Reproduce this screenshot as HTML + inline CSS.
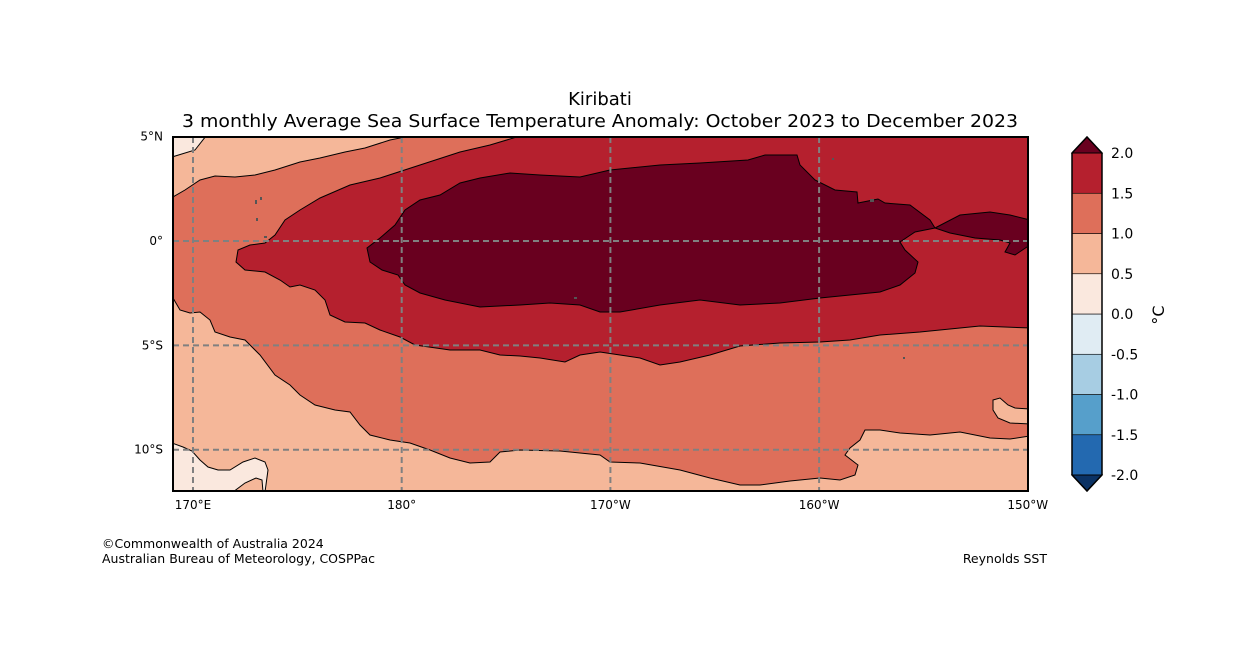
<!DOCTYPE html>
<html><head><meta charset="utf-8"><style>
html,body{margin:0;padding:0;background:#fff;}
svg{display:block;font-family:"DejaVu Sans","Liberation Sans",sans-serif;}
</style></head><body>
<svg id="fig" width="1258" height="667" viewBox="0 0 1258 667">
<text x="600" y="105" text-anchor="middle" font-size="18">Kiribati</text>
<text x="600" y="127" text-anchor="middle" font-size="18" textLength="836" lengthAdjust="spacingAndGlyphs">3 monthly Average Sea Surface Temperature Anomaly: October 2023 to December 2023</text>
<defs><clipPath id="mapclip"><rect x="173" y="137" width="855" height="354"/></clipPath></defs>
<g clip-path="url(#mapclip)" stroke="#000" stroke-width="1">
<rect x="173" y="137" width="855" height="354" fill="#f5b799" stroke="none"/>
<path fill="#de6f5a" d="M173,197 L185,190 200,180 215,176 235,177 255,175 275,170 300,162 320,158 345,152 365,148 390,140 410,136 1030,136 1030,436 1010,439 990,438 960,432 930,435 900,433 880,430 865,430 860,440 850,448 845,455 858,465 855,475 840,480 820,478 790,481 760,485 740,485 710,478 680,470 640,463 610,462 600,455 560,451 520,450 500,452 490,462 470,463 450,458 430,450 410,443 390,440 370,435 360,425 350,412 335,410 315,405 300,395 290,385 275,375 260,355 245,340 230,337 215,332 210,320 200,312 190,313 180,310 173,298 Z"/>
<path fill="#f5b799" d="M993,400 L1000,398 1008,405 1015,408 1030,409 1030,424 1010,423 998,418 993,410 Z"/>
<path fill="#b5202e" d="M520,136 L490,145 460,152 420,165 380,178 350,185 320,198 300,210 285,220 275,235 265,243 250,245 238,250 236,262 245,270 265,272 280,280 290,287 300,285 315,290 325,300 330,315 345,322 365,323 380,330 400,337 415,345 450,350 480,350 500,355 520,356 540,358 565,362 580,355 600,352 620,355 640,358 660,365 680,362 710,355 740,346 780,343 820,342 850,340 880,335 920,332 960,328 980,326 1030,328 1030,136 Z"/>
<path fill="#69001f" d="M380,238 L367,248 370,262 382,270 398,275 405,285 420,293 445,300 480,307 520,305 550,303 580,305 600,312 620,312 660,305 700,300 740,305 780,303 820,298 850,295 880,292 900,285 915,273 918,262 905,250 900,242 915,232 935,228 930,220 910,205 885,203 878,199 858,203 857,192 835,190 815,180 800,165 797,155 765,155 748,160 700,163 660,165 610,170 580,177 540,175 510,173 480,178 460,183 440,195 420,200 405,210 395,225 Z"/>
<path fill="#69001f" d="M935,228 L960,215 990,212 1010,215 1030,220 1030,245 1015,255 1005,252 1010,243 1000,240 975,238 950,233 Z"/>
<path fill="#fae8de" d="M172,137 L206,136 195,150 172,157 Z"/>
<path fill="#fae8de" d="M172,443 L183,447 192,451 200,460 208,467 218,470 230,470 243,462 255,458 265,462 268,470 265,492 263,492 262,480 256,478 245,483 233,492 172,492 Z"/>
<g fill="#555" stroke="none">
<rect x="255" y="200" width="2" height="4"/><rect x="260" y="197" width="2" height="3"/><rect x="256" y="218" width="2" height="3"/><rect x="264" y="236" width="3" height="2"/><rect x="574" y="297" width="3" height="2"/><rect x="870" y="199" width="4" height="3"/><rect x="832" y="158" width="2" height="2"/><rect x="903" y="357" width="2" height="2"/>
</g>
</g>
<g id="grid" stroke="#808080" stroke-width="2" stroke-dasharray="6,4"></g>
<rect x="173" y="137" width="855" height="354" fill="none" stroke="#000" stroke-width="2"/>
<g id="ticks" font-size="12"></g>
<g id="cbar"></g>
<text transform="translate(1164,315) rotate(-90)" text-anchor="middle" font-size="16">°C</text>
<text x="102" y="548" font-size="12.5">©Commonwealth of Australia 2024</text>
<text x="102" y="563" font-size="12.5">Australian Bureau of Meteorology, COSPPac</text>
<text x="1047" y="563" font-size="12.5" text-anchor="end">Reynolds SST</text>
</svg>
<script>
const lonTicks = [170, 180, 190, 200, 210];
const lonLabels = ["170°E", "180°", "170°W", "160°W", "150°W"];
const latTicks = [5, 0, -5, -10];
const latLabels = ["5°N", "0°", "5°S", "10°S"];
const cbarLevels = [-2.0, -1.5, -1.0, -0.5, 0.0, 0.5, 1.0, 1.5, 2.0];
const cbarColors = ["#2369b0", "#569fcb", "#a7cde3", "#e0ecf3", "#fae8de", "#f5b799", "#de6f5a", "#b5202e"];
const cbarUnder = "#0b3264";
const cbarOver = "#69001f";
const NS = "http://www.w3.org/2000/svg";
function xLon(l){ return 193 + (l - 170) * 20.87; }
function yLat(l){ return 241 - l * 20.87; }
function yC(v){ return 475 - (v + 2) * 80.5; }
function mk(tag, attrs, parent){ const e = document.createElementNS(NS, tag); for (const k in attrs) e.setAttribute(k, attrs[k]); parent.appendChild(e); return e; }
const gridG = document.getElementById('grid'), ticksG = document.getElementById('ticks'), cbarG = document.getElementById('cbar');
lonTicks.forEach((l, i) => {
  if (l < 210) {
    const ln = mk('line', {x1: xLon(l), x2: xLon(l), y1: 137, y2: 491}, gridG);
    
    
  }
  const t = mk('text', {x: xLon(l), y: 509, 'text-anchor': 'middle'}, ticksG);
  t.textContent = lonLabels[i];
  
  
});
latTicks.forEach((l, i) => {
  if (l < 5) {
    const ln = mk('line', {x1: 173, x2: 1028, y1: yLat(l), y2: yLat(l)}, gridG);
    
    
  }
  const t = mk('text', {x: 163, y: yLat(l) + 4, 'text-anchor': 'end'}, ticksG);
  t.textContent = latLabels[i];
  
  
});
for (let i = 0; i < cbarColors.length; i++) {
  const r = mk('rect', {x: 1072, y: yC(cbarLevels[i + 1]), width: 30, height: yC(cbarLevels[i]) - yC(cbarLevels[i + 1]), fill: cbarColors[i], stroke: '#000', 'stroke-width': 0.6}, cbarG);
  
  
}
const cbTop = yC(cbarLevels[cbarLevels.length - 1]), cbBot = yC(cbarLevels[0]);
const tri1 = mk('polygon', {points: `1072,${cbTop} 1087,${cbTop - 16} 1102,${cbTop}`, fill: cbarOver, stroke: '#000', 'stroke-width': 1}, cbarG);


const tri2 = mk('polygon', {points: `1072,${cbBot} 1087,${cbBot + 16} 1102,${cbBot}`, fill: cbarUnder, stroke: '#000', 'stroke-width': 1}, cbarG);


const outline = mk('polygon', {points: `1072,${cbTop} 1087,${cbTop - 16} 1102,${cbTop} 1102,${cbBot} 1087,${cbBot + 16} 1072,${cbBot}`, fill: 'none', stroke: '#000', 'stroke-width': 1.5}, cbarG);


cbarLevels.forEach(v => {
  const t = mk('text', {x: 1111, y: yC(v) + 5, 'font-size': 14}, cbarG);
  t.textContent = v.toFixed(1);
  
  
});
</script>
</body></html>
